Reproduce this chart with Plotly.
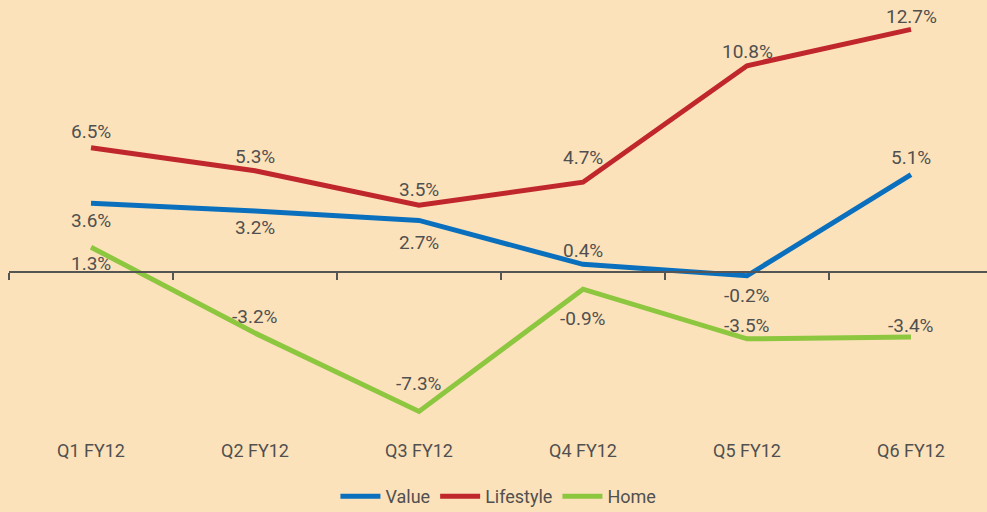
import plotly.graph_objects as go

categories = ["Q1 FY12", "Q2 FY12", "Q3 FY12", "Q4 FY12", "Q5 FY12", "Q6 FY12"]
value = [3.6, 3.2, 2.7, 0.4, -0.2, 5.1]
lifestyle = [6.5, 5.3, 3.5, 4.7, 10.8, 12.7]
home = [1.3, -3.2, -7.3, -0.9, -3.5, -3.4]

# label offsets in pixels (positive = upwards)
value_off = [-17, -17, -22, 14, -20, 17]
lifestyle_off = [16, 14, 16, 25, 14, 13]
home_off = [-16, 17, 28, -29, 13, 11]

TXT = "#505050"
FONT = "Roboto, Liberation Sans, sans-serif"

fig = go.Figure()
series = [
    ("Value", value, "#0a70bd", value_off),
    ("Lifestyle", lifestyle, "#c0272d", lifestyle_off),
    ("Home", home, "#8dc63f", home_off),
]
annotations = []
for name, vals, col, offs in series:
    fig.add_trace(go.Scatter(
        x=categories, y=vals, name=name, mode="lines",
        line=dict(color=col, width=5),
        xaxis="x", yaxis="y", hoverinfo="skip",
    ))
    for c, v, o in zip(categories, vals, offs):
        annotations.append(dict(x=c, y=v, xref="x", yref="y", text=f"{v:.1f}%",
                                showarrow=False, yshift=o, xanchor="center", yanchor="middle",
                                font=dict(size=19, color=TXT, family=FONT)))

# invisible trace to drive the boundary-tick axis at zero
fig.add_trace(go.Scatter(x=categories, y=[0] * 6, mode="lines", line=dict(width=0),
                         showlegend=False, hoverinfo="skip", xaxis="x2", yaxis="y"))

zero_frac = 1 - 272 / 512
xr = [-0.5, -0.5 + 978 / 164]
dom = [9 / 987, 1]
fig.update_layout(
    width=987, height=512,
    margin=dict(l=0, r=0, t=0, b=0, autoexpand=False),
    paper_bgcolor="#fce2ba", plot_bgcolor="#fce2ba",
    font=dict(family=FONT, color=TXT, size=17),
    showlegend=True,
    annotations=annotations,
    legend=dict(orientation="h", x=0.505, xanchor="center", y=0.03, yanchor="middle",
                font=dict(size=18, color=TXT), bgcolor="rgba(0,0,0,0)", itemwidth=40),
    xaxis=dict(type="category", range=xr, domain=dom, anchor="free", position=(512 - 438) / 512,
               showline=False, showgrid=False, zeroline=False, ticks="",
               tickfont=dict(size=18, color=TXT, family=FONT)),
    xaxis2=dict(type="category", range=xr, domain=dom, anchor="free", position=zero_frac,
                overlaying="x", showline=True, linecolor="#555555", linewidth=1.5,
                tickson="boundaries", ticks="outside", ticklen=7, tickcolor="#555555", tickwidth=1.5,
                showticklabels=False, showgrid=False, zeroline=False),
    yaxis=dict(range=[-(512 - 272) / 19.1, 272 / 19.1], domain=[0, 1], visible=False,
               showgrid=False, zeroline=False),
)

fig.write_html("out.html")
